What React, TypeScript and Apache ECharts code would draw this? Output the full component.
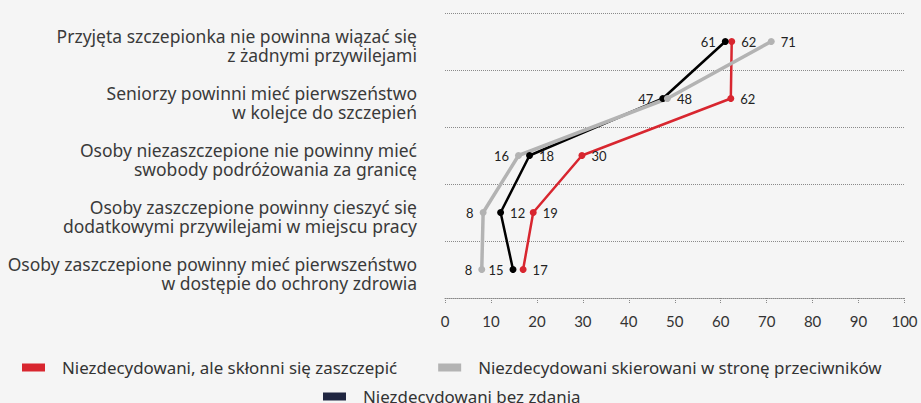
import React, { useEffect, useRef } from "react";
import * as echarts from "echarts";

const categories = [
  "Przyjęta szczepionka nie powinna wiązać się\nz żadnymi przywilejami",
  "Seniorzy powinni mieć pierwszeństwo\nw kolejce do szczepień",
  "Osoby niezaszczepione nie powinny mieć\nswobody podróżowania za granicę",
  "Osoby zaszczepione powinny cieszyć się\ndodatkowymi przywilejami w miejscu pracy",
  "Osoby zaszczepione powinny mieć pierwszeństwo\nw dostępie do ochrony zdrowia",
];

const seriesNames = [
  "Niezdecydowani, ale skłonni się zaszczepić",
  "Niezdecydowani skierowani w stronę przeciwników",
  "Niezdecydowani bez zdania",
];

const redValues = [62.4, 62.2, 29.8, 19.2, 17];
const grayValues = [71, 48.4, 16, 8.3, 8];
const blackValues = [61, 47.4, 18.4, 12.1, 14.8];

const redLabelPos = ["right", "right", "right", "right", "right"];
const grayLabelPos = ["right", "right", "left", "left", "left"];
const blackLabelPos = ["left", "left", "right", "right", "left"];

const xTicks = { min: 0, max: 100, interval: 10 };

export default function App() {
  const ref = useRef<HTMLDivElement>(null);

  useEffect(() => {
    document.body.style.margin = "0";
    document.body.style.background = "#f5f5f5";
    if (!ref.current) return;
    const chart = echarts.init(ref.current, undefined, { renderer: "svg" });

    const mk = (vals: number[], pos: string[]) =>
      vals.map((v, i) => ({ value: v, label: { position: pos[i] } }));

    const labelCommon = {
      show: true,
      fontFamily: "Lato",
      fontSize: 13,
      color: "#222",
      distance: 6,
      formatter: (p: any) => String(Math.round(p.value)),
    };

    const legendText = {
      fontFamily: "Noto Sans",
      fontSize: 16.9,
      color: "#333",
      padding: [0, 0, 0, 12],
    };

    chart.setOption({
      animation: false,
      backgroundColor: "#f5f5f5",
      grid: [
        { left: 445, right: 16.5, top: 13, bottom: 105 },
        { left: 445, right: 16.5, top: 16.5, bottom: 101.5 },
      ],
      xAxis: [
        {
          type: "value",
          gridIndex: 0,
          min: xTicks.min,
          max: xTicks.max,
          interval: xTicks.interval,
          axisLine: { show: true, lineStyle: { color: "#888", type: "dotted", width: 1 } },
          axisTick: { show: true, length: 5, lineStyle: { color: "#888", type: "dotted" } },
          axisLabel: { fontFamily: "Lato", fontSize: 15, color: "#333", margin: 15 },
          splitLine: { show: false },
        },
        {
          type: "value",
          gridIndex: 1,
          show: false,
          min: xTicks.min,
          max: xTicks.max,
        },
      ],
      yAxis: [
        {
          type: "category",
          gridIndex: 0,
          inverse: true,
          data: categories,
          axisLine: { show: false },
          axisTick: { show: false },
          axisLabel: { show: false },
          splitLine: { show: true, lineStyle: { color: "#8a8a8a", type: "dotted", width: 1 } },
        },
        {
          type: "category",
          gridIndex: 1,
          inverse: true,
          data: categories,
          axisLine: { show: false },
          axisTick: { show: false },
          splitLine: { show: false },
          axisLabel: {
            interval: 0,
            showMinLabel: true,
            showMaxLabel: true,
            hideOverlap: false,
            fontFamily: "Noto Sans",
            fontSize: 17.5,
            color: "#3a3a3a",
            lineHeight: 19,
            margin: 28,
            align: "right",
          },
        },
      ],
      legend: [
        {
          data: [seriesNames[0], seriesNames[1]],
          left: 22,
          top: 359,
          padding: 0,
          icon: "rect",
          itemWidth: 23,
          itemHeight: 8,
          itemGap: 41,
          textStyle: legendText,
        },
        {
          data: [{ name: seriesNames[2], itemStyle: { color: "#1f2540" } }],
          left: 323,
          top: 388,
          padding: 0,
          icon: "rect",
          itemWidth: 23,
          itemHeight: 8,
          textStyle: legendText,
        },
      ],
      series: [
        {
          name: seriesNames[0],
          type: "line",
          data: mk(redValues, redLabelPos),
          symbol: "circle",
          symbolSize: 7,
          itemStyle: { color: "#d8262f" },
          lineStyle: { color: "#d8262f", width: 2.5 },
          label: labelCommon,
        },
        {
          name: seriesNames[2],
          type: "line",
          data: mk(blackValues, blackLabelPos),
          symbol: "circle",
          symbolSize: 7,
          itemStyle: { color: "#000" },
          lineStyle: { color: "#000", width: 2.5 },
          label: labelCommon,
        },
        {
          name: seriesNames[1],
          type: "line",
          data: mk(grayValues, grayLabelPos),
          symbol: "circle",
          symbolSize: 7,
          itemStyle: { color: "#b3b3b3" },
          lineStyle: { color: "#b3b3b3", width: 3.5 },
          label: labelCommon,
        },
      ],
    });
    return () => chart.dispose();
  }, []);

  return <div ref={ref} style={{ width: 921, height: 403 }} />;
}
